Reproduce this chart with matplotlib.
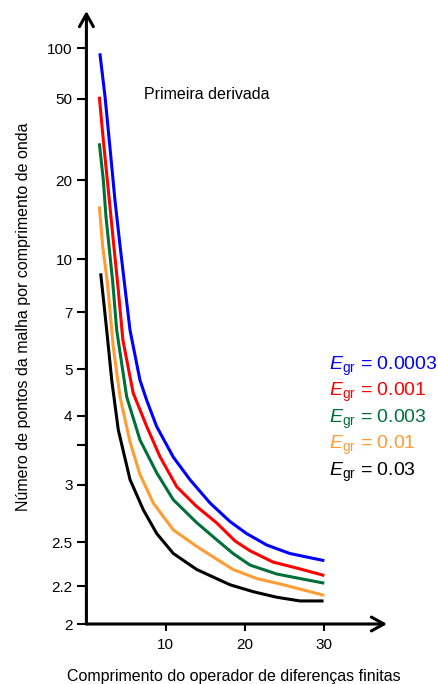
import numpy as np
import matplotlib.pyplot as plt

plt.rcParams['font.family'] = ['Liberation Sans', 'DejaVu Sans']
plt.rcParams['mathtext.fontset'] = 'custom'
plt.rcParams['mathtext.rm'] = 'Liberation Sans'
plt.rcParams['mathtext.it'] = 'Liberation Sans:italic'

# Comprimento do operador (eixo x) e pontos por comprimento de onda (eixo y)
x_azul = [1.7, 2.35, 3.0, 3.6, 4.25, 4.9, 5.5, 6.75, 7.6, 8.85, 10.95, 13.05, 15.6, 18.1, 20.2, 22.75, 25.65, 30]
y_azul = [93.3, 51.4, 28.1, 16.8, 11.2, 8.13, 6.30, 4.75, 4.31, 3.81, 3.34, 3.06, 2.83, 2.67, 2.57, 2.48, 2.42, 2.37]

x_vermelho = [1.63, 2.13, 2.76, 3.39, 4.02, 4.6, 5.9, 7.6, 9.3, 11.4, 13.9, 16.4, 18.75, 20.6, 23.55, 26.5, 30]
y_vermelho = [51.4, 31.4, 18.4, 11.8, 8.13, 5.94, 4.46, 3.81, 3.34, 2.98, 2.80, 2.66, 2.51, 2.44, 2.36, 2.32, 2.27]

x_verde = [1.63, 2.13, 2.47, 3.32, 3.82, 5.08, 6.76, 8.87, 10.96, 13.91, 16.43, 18.49, 20.63, 24.0, 26.94, 30]
y_verde = [30.3, 20.1, 14.5, 8.58, 6.30, 4.38, 3.58, 3.14, 2.86, 2.66, 2.52, 2.42, 2.34, 2.28, 2.25, 2.22]

x_laranja = [1.63, 2.06, 2.64, 3.39, 4.24, 5.5, 6.76, 8.44, 10.96, 13.91, 16.43, 18.49, 21.48, 24.83, 30]
y_laranja = [15.9, 11.17, 8.58, 5.70, 4.38, 3.55, 3.12, 2.83, 2.60, 2.47, 2.38, 2.31, 2.25, 2.21, 2.15]

x_preto = [1.8, 2.56, 3.19, 4.02, 5.5, 7.18, 8.87, 10.96, 13.91, 18.1, 21.05, 24.0, 26.94, 29.9]
y_preto = [9.10, 6.30, 4.75, 3.75, 3.06, 2.77, 2.57, 2.42, 2.31, 2.21, 2.17, 2.14, 2.12, 2.12]

erros = ['0.0003', '0.001', '0.003', '0.01', '0.03']
cores = ['#0000FF', '#FF0000', '#00703A', '#FF9C33', '#000000']

x_marcas = [10, 20, 30]
y_marcas = [2, 2.2, 2.5, 3, 3.5, 4, 5, 7, 10, 20, 50, 100]
y_rotulos = ['2', '2.2', '2.5', '3', '', '4', '5', '7', '10', '20', '50', '100']

# o eixo y original nao e log puro: altura (px) de cada marca acima do eixo x
altura_marcas = [0, 37.7, 81.7, 139.3, 179, 208.3, 254.7, 311.7, 364.7, 443.7, 525.3, 575.7]
log_ref = np.log10(np.r_[1, y_marcas, 1000])
alt_ref = np.r_[-274.2, altura_marcas, 743.1]


def para_eixo(v):
    v = np.clip(np.asarray(v, dtype=float), 1e-6, None)
    return np.interp(np.log10(v), log_ref, alt_ref)


def do_eixo(h):
    return 10 ** np.interp(np.asarray(h, dtype=float), alt_ref, log_ref)


fig = plt.figure(figsize=(4.38, 6.84), dpi=100)
ax = fig.add_axes([86.4 / 438, 60 / 684, (387 - 86.4) / 438, 613 / 684])
ax.set_yscale('function', functions=(para_eixo, do_eixo))

curvas = [(x_azul, y_azul), (x_vermelho, y_vermelho), (x_verde, y_verde),
          (x_laranja, y_laranja), (x_preto, y_preto)]
for (xs, ys), cor in zip(curvas, cores):
    ax.plot(xs, ys, color=cor, lw=2.2, solid_capstyle='butt')

ax.set_xlim(0, 37.9)
ax.set_ylim(2, 167)
ax.set_xticks(x_marcas)
ax.set_yticks(y_marcas)
ax.set_yticklabels(y_rotulos)
ax.yaxis.set_minor_locator(plt.NullLocator())
ax.xaxis.set_minor_locator(plt.NullLocator())
ax.tick_params(axis='y', length=6.5, width=1.5, pad=3.5, labelsize=11)
ax.tick_params(axis='x', length=5, width=1.5, pad=5, labelsize=11)

for lado in ax.spines.values():
    lado.set_visible(False)

# eixos com setas
seta = dict(arrowstyle='->,head_length=0.9,head_width=0.5', lw=2.2, color='black',
            shrinkA=0, shrinkB=0, mutation_scale=10)
ax.annotate('', xy=(1, 0), xytext=(0, 0), xycoords='axes fraction', arrowprops=seta, annotation_clip=False)
ax.annotate('', xy=(0, 1), xytext=(0, 0), xycoords='axes fraction', arrowprops=seta, annotation_clip=False)

ax.text(0.400, 0.863, 'Primeira derivada', transform=ax.transAxes, ha='center', va='center', fontsize=11.5)

fig.text(23.5 / 438, 1 - 317 / 684, 'Número de pontos da malha por comprimento de onda',
         rotation=90, ha='center', va='center', fontsize=11.5)
fig.text(234 / 438, 1 - 677 / 684, 'Comprimento do operador de diferenças finitas',
         ha='center', va='center', fontsize=11.5)

for i, (e, cor) in enumerate(zip(erros, cores)):
    base = 369.5 + 26.6 * i
    fig.text(329.3 / 438, 1 - base / 684, r'$E_{\mathrm{gr}}$ = ' + e, color=cor,
             fontsize=14, ha='left', va='baseline')

fig.savefig('out.png', dpi=100, facecolor='white')
